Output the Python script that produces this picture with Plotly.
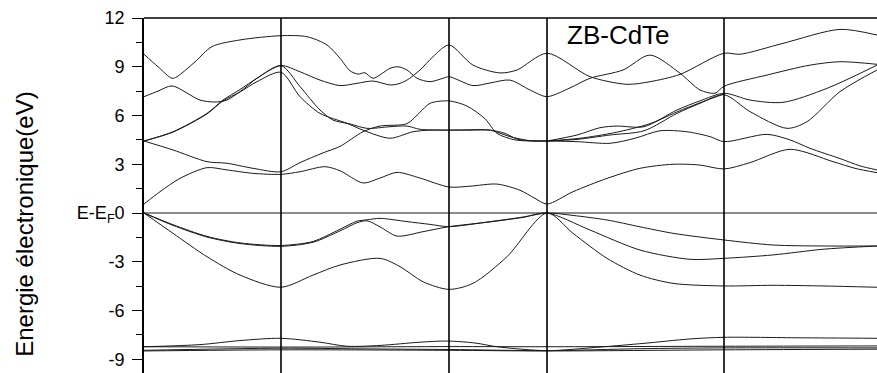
import plotly.graph_objects as go

# k positions (arbitrary path units) and energies (eV)
sym_k = [1.37, 3.05, 4.03, 5.80]

T_k = [0.0, 0.14, 0.28, 0.33, 0.51, 0.68, 0.96, 1.37, 1.63, 1.83, 1.96, 2.06, 2.14, 2.21, 2.29, 2.46, 2.54, 2.63, 2.73, 2.86, 2.99, 3.05, 3.29, 3.46, 3.66, 3.86, 4.03, 4.26, 4.46, 4.79, 5.06, 5.36, 5.56, 5.71, 5.80, 6.23, 6.66, 6.96, 7.33]
T_E = [9.77, 9.0, 8.29, 8.39, 9.3, 10.24, 10.65, 10.91, 10.85, 10.34, 9.52, 8.75, 8.55, 8.63, 8.29, 8.9, 9.0, 8.8, 8.29, 8.08, 8.29, 8.39, 7.84, 8.0, 8.18, 7.57, 7.16, 7.7, 8.29, 8.8, 9.72, 8.6, 7.57, 7.37, 7.8, 8.49, 9.1, 9.31, 9.15]

O_k = [0.0, 0.14, 0.28, 0.56, 0.71, 0.83, 1.01, 1.13, 1.37, 1.56, 1.76, 1.96, 2.13, 2.29, 2.46, 2.54, 2.63, 2.76, 2.89, 3.05, 3.29, 3.56, 3.73, 4.03, 4.46, 4.83, 5.06, 5.36, 5.80, 5.96, 6.39, 6.96, 7.33]
O_E = [7.16, 7.5, 7.82, 6.95, 6.83, 6.95, 7.7, 8.3, 9.07, 8.69, 8.18, 7.84, 7.98, 8.12, 7.88, 7.94, 8.18, 8.8, 9.62, 10.34, 9.1, 8.62, 8.8, 9.83, 8.39, 7.92, 8.08, 8.53, 9.83, 9.77, 10.44, 11.3, 10.95]

B1_k = [0.0, 0.29, 0.63, 0.79, 0.96, 1.13, 1.37, 1.56, 1.76, 1.89, 2.06, 2.23, 2.46, 2.63, 2.76, 3.05, 3.26, 3.46, 3.61, 3.73, 3.86, 4.03]
B1_E = [4.43, 5.0, 6.13, 6.95, 7.6, 8.29, 9.07, 7.78, 6.34, 5.72, 5.48, 5.21, 5.31, 5.35, 5.15, 5.1, 5.1, 5.1, 4.9, 4.55, 4.45, 4.43]

B2_k = [0.0, 0.29, 0.63, 0.79, 0.96, 1.13, 1.37, 1.56, 1.76, 2.03, 2.19, 2.46, 2.69, 2.86, 3.05, 3.26, 3.46, 3.66, 3.86, 4.03]
B2_E = [4.43, 4.98, 6.1, 6.9, 7.45, 8.08, 8.66, 7.16, 6.13, 5.52, 5.1, 4.6, 5.0, 5.1, 5.1, 5.12, 5.1, 4.7, 4.45, 4.43]

C2_k = [0.0, 0.29, 0.63, 0.83, 1.09, 1.37, 1.56, 1.79, 1.96, 2.19, 2.36, 2.63, 2.76, 2.86, 3.05, 3.23, 3.41, 3.53, 3.71, 3.86, 4.03]
C2_E = [4.43, 3.88, 3.16, 3.06, 2.75, 2.54, 3.1, 3.7, 4.1, 5.0, 5.35, 5.5, 6.2, 6.75, 6.9, 6.58, 5.8, 4.9, 4.5, 4.43, 4.43]

C1_k = [0.0, 0.16, 0.36, 0.63, 0.83, 1.09, 1.37, 1.56, 1.81, 1.96, 2.19, 2.36, 2.53, 2.76, 3.05, 3.26, 3.53, 3.76, 3.91, 4.03, 4.29, 4.63, 4.96, 5.29, 5.56, 5.80, 6.06, 6.46, 6.89, 7.11, 7.33]
C1_E = [0.55, 1.31, 2.13, 2.79, 2.65, 2.44, 2.38, 2.54, 2.85, 2.6, 1.85, 2.15, 2.5, 2.15, 1.6, 1.65, 1.78, 1.4, 0.9, 0.55, 1.31, 2.13, 2.75, 3.0, 2.95, 2.71, 3.1, 3.92, 3.16, 2.75, 2.48]

D_k = [4.03, 4.33, 4.66, 4.91, 5.16, 5.43, 5.66, 5.80, 6.23, 6.46, 6.66, 6.96, 7.16, 7.33]
D_E = [4.43, 4.39, 4.29, 4.6, 5.06, 5.0, 4.7, 4.39, 4.84, 4.5, 3.98, 3.35, 2.9, 2.65]

Ra_k = [4.03, 4.33, 4.56, 4.73, 5.0, 5.33, 5.56, 5.80, 6.06, 6.39, 6.83, 7.33]
Ra_E = [4.43, 4.8, 5.25, 5.35, 5.31, 6.34, 6.9, 7.37, 6.95, 6.81, 7.67, 9.1]

Rb_k = [4.03, 4.33, 4.66, 5.0, 5.33, 5.56, 5.80, 6.06, 6.43, 6.63, 6.96, 7.33]
Rb_E = [4.43, 4.53, 4.8, 5.06, 6.13, 6.75, 7.28, 6.24, 5.21, 5.62, 7.47, 8.8]

Rc_k = [4.03, 4.36, 4.71, 5.06, 5.36, 5.61, 5.80]
Rc_E = [4.43, 4.6, 4.95, 5.5, 6.3, 6.9, 7.32]

V1_k = [0.0, 0.29, 0.63, 0.96, 1.37, 1.69, 1.96, 2.13, 2.23, 2.36, 2.63, 2.86, 3.05, 3.46, 3.79, 4.03, 4.29, 4.63, 4.96, 5.29, 5.80, 6.29, 6.79, 7.33]
V1_E = [0.0, -0.72, -1.44, -1.84, -2.0, -1.75, -1.0, -0.5, -0.42, -0.33, -0.53, -0.7, -0.84, -0.53, -0.25, 0.0, -0.15, -0.43, -0.85, -1.25, -1.66, -1.97, -2.03, -2.03]

V2_k = [0.0, 0.29, 0.63, 0.96, 1.37, 1.69, 1.96, 2.13, 2.23, 2.36, 2.53, 2.79, 3.05, 3.46, 3.79, 4.03, 4.46, 4.96, 5.46, 5.80, 6.29, 6.79, 7.33]
V2_E = [0.0, -0.76, -1.48, -1.88, -2.05, -1.8, -1.1, -0.6, -0.48, -0.85, -1.42, -1.15, -0.84, -0.55, -0.27, 0.0, -1.05, -2.28, -2.85, -2.79, -2.58, -2.23, -2.03]

V3_k = [0.0, 0.29, 0.63, 0.96, 1.37, 1.69, 1.96, 2.36, 2.56, 2.79, 3.05, 3.29, 3.63, 4.03, 4.29, 4.63, 4.96, 5.29, 5.80, 6.29, 6.79, 7.33]
V3_E = [0.0, -1.25, -2.69, -3.82, -4.57, -3.82, -3.2, -2.79, -3.3, -4.23, -4.7, -4.33, -2.69, 0.0, -1.25, -2.79, -3.82, -4.33, -4.49, -4.45, -4.49, -4.57]

Dd1_k = [0.0, 0.56, 0.96, 1.37, 1.76, 2.03, 2.36, 2.76, 3.03, 3.31, 3.53, 4.03, 4.56, 5.0, 5.46, 5.80, 6.56, 7.33]
Dd1_E = [-8.23, -8.1, -7.85, -7.71, -7.95, -8.2, -8.15, -7.95, -7.88, -8.0, -8.23, -8.47, -8.25, -8.02, -7.75, -7.65, -7.68, -7.71]

Dd2_k = [0.0, 1.56, 3.05, 4.03, 5.80, 7.33]
Dd2_E = [-8.23, -8.25, -8.22, -8.23, -8.2, -8.18]

Dd3_k = [0.0, 1.37, 3.05, 4.03, 5.80, 7.33]
Dd3_E = [-8.49, -8.42, -8.45, -8.49, -8.42, -8.38]

Dd4_k = [0.0, 1.37, 2.16, 3.05, 4.03, 4.96, 5.80, 7.33]
Dd4_E = [-8.45, -8.32, -8.36, -8.4, -8.47, -8.35, -8.3, -8.3]

bands = [(T_k, T_E), (O_k, O_E), (B1_k, B1_E), (B2_k, B2_E), (C2_k, C2_E),
         (C1_k, C1_E), (D_k, D_E), (Ra_k, Ra_E), (Rb_k, Rb_E), (Rc_k, Rc_E),
         (V1_k, V1_E), (V2_k, V2_E), (V3_k, V3_E),
         (Dd1_k, Dd1_E), (Dd2_k, Dd2_E), (Dd3_k, Dd3_E), (Dd4_k, Dd4_E)]

y_ticks = [-9, -6, -3, 0, 3, 6, 9, 12]
y_ticktext = ["-9", "-6", "-3", "E-E<sub>F</sub>0", "3", "6", "9", "12"]

fig = go.Figure()
for k, e in bands:
    fig.add_trace(go.Scatter(x=k, y=e, mode="lines",
                             line=dict(color="#1a1a1a", width=1, shape="spline", smoothing=0.8),
                             hoverinfo="skip", showlegend=False))

fig.add_hline(y=0, line=dict(color="#1a1a1a", width=1.2))
for xv in sym_k:
    fig.add_vline(x=xv, line=dict(color="black", width=1.6))

fig.add_shape(type="line", xref="paper", yref="paper", x0=0, x1=1, y0=1, y1=1,
              line=dict(color="black", width=1.6))

fig.add_annotation(text="ZB-CdTe", xref="paper", yref="paper", x=0.647, y=0.952,
                   xanchor="center", yanchor="middle",
                   showarrow=False, font=dict(family="Liberation Sans, Arial", size=26, color="black"))
fig.add_annotation(text="Energie électronique(eV)", xref="paper", yref="paper",
                   x=-0.1625, y=0.42, textangle=-90, showarrow=False,
                   xanchor="center", yanchor="middle",
                   font=dict(family="Liberation Sans, Arial", size=24, color="black"))

fig.update_layout(
    width=877, height=373,
    margin=dict(l=144, r=0, t=18, b=0),
    paper_bgcolor="white", plot_bgcolor="white",
    showlegend=False,
    xaxis=dict(range=[0, 7.33], showgrid=False, zeroline=False, showline=False,
               showticklabels=False, ticks=""),
    yaxis=dict(range=[-9.846, 12], showgrid=False, zeroline=False,
               showline=True, linecolor="black", linewidth=1.6,
               tickvals=y_ticks, ticktext=y_ticktext, ticks="outside",
               ticklen=10, tickwidth=1.2, tickcolor="black",
               ticklabelstandoff=4,
               tickfont=dict(family="Liberation Sans, Arial", size=18, color="black"),
               minor=dict(dtick=1.5, tick0=0, ticks="outside", ticklen=6,
                          tickwidth=1.2, tickcolor="black")),
)

fig.write_html("out.html")
